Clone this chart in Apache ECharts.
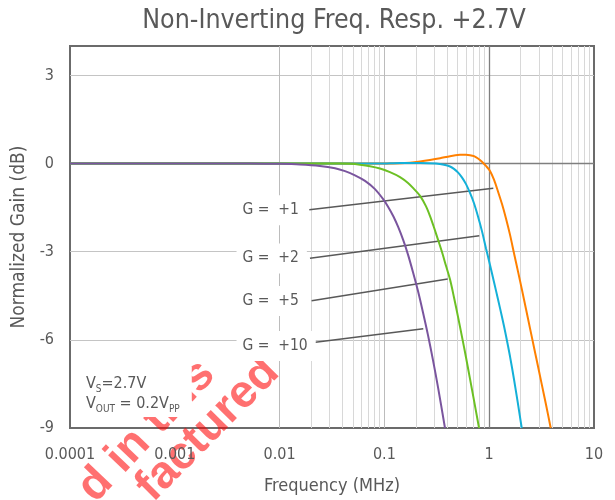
<!DOCTYPE html>
<html>
<head>
<meta charset="utf-8">
<script src="https://cdn.jsdelivr.net/npm/echarts@6/dist/echarts.min.js"></script>
<style>
  html, body { margin: 0; padding: 0; background: #fff; }
  #chart { width: 615px; height: 500px; }
</style>
</head>
<body>
<div id="chart"></div>
<script>
const FONT = "'DejaVu Sans Condensed', 'DejaVu Sans', sans-serif";
const TEXT = '#595959';

const titleText = 'Non-Inverting Freq. Resp. +2.7V';
const xAxisName = 'Frequency (MHz)';
const yAxisName = 'Normalized Gain (dB)';

const xTickValues = [0.0001, 0.001, 0.01, 0.1, 1, 10];
const xTickLabels = ['0.0001', '0.001', '0.01', '0.1', '1', '10'];
const yTickValues = [-9, -6, -3, 0, 3];
const yTickLabels = ['-9', '-6', '-3', '0', '3'];

// Frequency response per closed-loop gain: frequency (MHz) and normalized gain (dB)
const freqG1 = [0.0001, 0.001, 0.01, 0.0908, 0.141, 0.1754, 0.219, 0.272, 0.340, 0.423, 0.526, 0.601, 0.656, 0.716, 0.782, 0.853, 0.931, 1.018, 1.111, 1.213, 1.325, 1.446, 1.579, 1.724, 1.882, 2.055, 2.244, 2.449, 2.674, 2.921, 3.189, 3.482, 3.863];
const gainG1 = [0, 0, 0, 0, 0.01, 0.03, 0.07, 0.12, 0.18, 0.25, 0.295, 0.3, 0.285, 0.25, 0.17, 0.06, -0.08, -0.25, -0.55, -0.95, -1.38, -1.87, -2.42, -3.05, -3.67, -4.3, -4.95, -5.6, -6.25, -6.9, -7.55, -8.2, -9];

const freqG2 = [0.0001, 0.001, 0.01, 0.0908, 0.141, 0.219, 0.310, 0.371, 0.423, 0.461, 0.503, 0.549, 0.601, 0.656, 0.716, 0.782, 0.853, 0.931, 1.018, 1.111, 1.213, 1.325, 1.446, 1.579, 1.724, 1.882, 2.043];
const gainG2 = [0, 0, 0, 0, 0.02, 0.02, 0.0, -0.04, -0.1, -0.18, -0.3, -0.47, -0.7, -1.0, -1.35, -1.8, -2.3, -2.88, -3.45, -4.03, -4.62, -5.22, -5.86, -6.56, -7.34, -8.18, -9];

const freqG5 = [0.0001, 0.001, 0.01, 0.0377, 0.047, 0.0585, 0.0729, 0.0908, 0.113, 0.141, 0.168, 0.191, 0.219, 0.249, 0.272, 0.297, 0.324, 0.355, 0.387, 0.423, 0.461, 0.503, 0.549, 0.601, 0.656, 0.716, 0.800];
const gainG5 = [0, 0, 0, 0, -0.01, -0.04, -0.09, -0.17, -0.29, -0.46, -0.66, -0.86, -1.1, -1.45, -1.78, -2.17, -2.58, -3.02, -3.48, -3.95, -4.55, -5.2, -5.88, -6.6, -7.33, -8.06, -9];

const freqG10 = [0.0001, 0.001, 0.00523, 0.0101, 0.01567, 0.02427, 0.0338, 0.0421, 0.0524, 0.0653, 0.0813, 0.0977, 0.108, 0.122, 0.135, 0.151, 0.168, 0.1875, 0.2095, 0.2335, 0.2606, 0.2911, 0.3243, 0.3785];
const gainG10 = [0, 0, 0, -0.01, -0.03, -0.08, -0.16, -0.26, -0.4, -0.59, -0.87, -1.22, -1.46, -1.8, -2.15, -2.6, -3.1, -3.7, -4.35, -5.07, -5.84, -6.7, -7.6, -9];

const seriesNames = ['G = +1', 'G = +2', 'G = +5', 'G = +10'];
const seriesColors = ['#ff8000', '#14b0d8', '#6cc024', '#7a559e'];
const seriesFreqs = [freqG1, freqG2, freqG5, freqG10];
const seriesGains = [gainG1, gainG2, gainG5, gainG10];

// Callout labels and their leader lines (data coordinates)
const calloutText = ['G =  +1', 'G =  +2', 'G =  +5', 'G =  +10'];
const calloutAnchorFreq = 0.00384;
const calloutAnchorGain = [-1.59, -3.23, -4.68, -6.21];
const leaderStartFreq = [0.0192, 0.0195, 0.0202, 0.0210];
const leaderStartGain = [-1.57, -3.22, -4.67, -6.09];
const leaderEndFreq = [1.094, 0.804, 0.402, 0.235];
const leaderEndGain = [-0.84, -2.46, -3.93, -5.62];

// Log grid: 2..9 within each decade, plus the decade lines
const decadeStarts = [0.0001, 0.001, 0.01, 0.1, 1];
const minorGrid = [];
decadeStarts.forEach(d => { for (let k = 2; k <= 9; k++) minorGrid.push(+(k * d).toPrecision(3)); });
const majorGrid = [0.001, 0.01, 0.1];
const axisCrossFreq = 1;
const axisCrossGain = 0;

const chart = echarts.init(document.getElementById('chart'), null, { renderer: 'canvas' });

const gridLineData = []
  .concat(minorGrid.map(v => ({ xAxis: v, lineStyle: { color: '#d8d8d8', width: 1, type: 'solid' } })))
  .concat(majorGrid.map(v => ({ xAxis: v, lineStyle: { color: '#bcbcbc', width: 1, type: 'solid' } })))
  .concat([
    { xAxis: axisCrossFreq, lineStyle: { color: '#7f7f7f', width: 1.3, type: 'solid' } },
    { yAxis: axisCrossGain, lineStyle: { color: '#7f7f7f', width: 1.3, type: 'solid' } }
  ]);

const curveSeries = seriesNames.map((name, i) => ({
  type: 'line',
  name: name,
  data: seriesFreqs[i].map((f, j) => [f, seriesGains[i][j]]),
  showSymbol: false,
  symbol: 'none',
  smooth: 0.3,
  lineStyle: { color: seriesColors[i], width: 2 },
  itemStyle: { color: seriesColors[i] },
  z: 5 + i,
  animation: false,
  silent: true
}));

const option = {
  animation: false,
  backgroundColor: '#ffffff',
  title: {
    text: titleText,
    left: 329,
    top: 3,
    textAlign: 'center',
    textStyle: { fontFamily: FONT, fontSize: 26.5, fontWeight: 'normal', color: TEXT }
  },
  grid: {
    left: 70, top: 46, width: 524, height: 382,
    show: true, borderColor: '#6b6b6b', borderWidth: 2, backgroundColor: '#ffffff'
  },
  xAxis: {
    type: 'log',
    logBase: 10,
    min: 0.0001,
    max: 10,
    axisLine: { show: false },
    axisTick: { show: false },
    splitLine: { show: false },
    axisLabel: {
      margin: 19,
      fontFamily: FONT, fontSize: 16, color: TEXT,
      formatter: v => {
        const idx = xTickValues.findIndex(t => Math.abs(Math.log10(t) - Math.log10(v)) < 1e-6);
        return idx >= 0 ? xTickLabels[idx] : '';
      }
    },
    name: xAxisName,
    nameLocation: 'middle',
    nameGap: 49,
    nameTextStyle: { fontFamily: FONT, fontSize: 18, color: TEXT }
  },
  yAxis: {
    type: 'value',
    min: -9,
    max: 4,
    interval: 3,
    axisLine: { show: false },
    axisTick: { show: false },
    splitLine: { show: true, showMinLine: false, showMaxLine: false, lineStyle: { color: '#c4c4c4', width: 1 } },
    axisLabel: {
      margin: 16,
      fontFamily: FONT, fontSize: 16, color: TEXT,
      formatter: v => {
        const idx = yTickValues.indexOf(v);
        return idx >= 0 ? yTickLabels[idx] : '';
      }
    },
    name: yAxisName,
    nameLocation: 'middle',
    nameGap: 38,
    nameTextStyle: { fontFamily: FONT, fontSize: 19, color: TEXT }
  },
  series: [
    {
      type: 'line',
      data: [],
      z: 1,
      silent: true,
      markLine: {
        silent: true,
        animation: false,
        symbol: ['none', 'none'],
        label: { show: false },
        emphasis: { disabled: true },
        data: gridLineData
      }
    },
    {
      type: 'line',
      data: [],
      z: 3,
      silent: true,
      markLine: {
        silent: true,
        animation: false,
        symbol: ['none', 'none'],
        label: { show: false },
        emphasis: { disabled: true },
        lineStyle: { color: '#595959', width: 1.5, type: 'solid' },
        data: leaderStartFreq.map((f, i) => [
          { coord: [f, leaderStartGain[i]] },
          { coord: [leaderEndFreq[i], leaderEndGain[i]] }
        ])
      },
      markPoint: {
        silent: true,
        animation: false,
        symbol: 'rect',
        symbolSize: 1,
        itemStyle: { color: 'rgba(0,0,0,0)' },
        label: {
          show: true,
          position: 'right',
          distance: 0,
          fontFamily: FONT, fontSize: 15.5, color: TEXT,
          backgroundColor: '#ffffff',
          padding: [7, 8, 7, 6]
        },
        data: calloutText.map((t, i) => ({
          coord: [calloutAnchorFreq, calloutAnchorGain[i]],
          label: { formatter: t }
        }))
      }
    }
  ].concat(curveSeries),
  graphic: [
    {
      type: 'text',
      left: 75,
      top: 367,
      z: 100,
      silent: true,
      style: {
        text: '{m|V}{s|S}{m|=2.7V}\n{m|V}{s|OUT}{m| = 0.2V}{s|PP}',
        fill: TEXT,
        backgroundColor: '#ffffff',
        padding: [7, 12, 3, 11],
        rich: {
          m: { fontFamily: FONT, fontSize: 16, color: TEXT, lineHeight: 20 },
          s: { fontFamily: FONT, fontSize: 10, color: TEXT, lineHeight: 20, verticalAlign: 'bottom' }
        }
      }
    },
    {
      type: 'group',
      z: 200,
      silent: true,
      children: [
        {
          type: 'text',
          x: 86, y: 495,
          rotation: 0.81,
          style: {
            text: 'd in this',
            font: 'bold 46px "Liberation Sans", Arial, sans-serif',
            fill: 'rgba(255,0,0,0.56)',
            align: 'left',
            verticalAlign: 'middle'
          }
        },
        {
          type: 'text',
          x: 144, y: 494,
          rotation: 0.79,
          style: {
            text: 'factured',
            font: 'bold 46px "Liberation Sans", Arial, sans-serif',
            fill: 'rgba(255,0,0,0.56)',
            align: 'left',
            verticalAlign: 'middle'
          }
        }
      ]
    }
  ]
};

chart.setOption(option);
</script>
</body>
</html>
